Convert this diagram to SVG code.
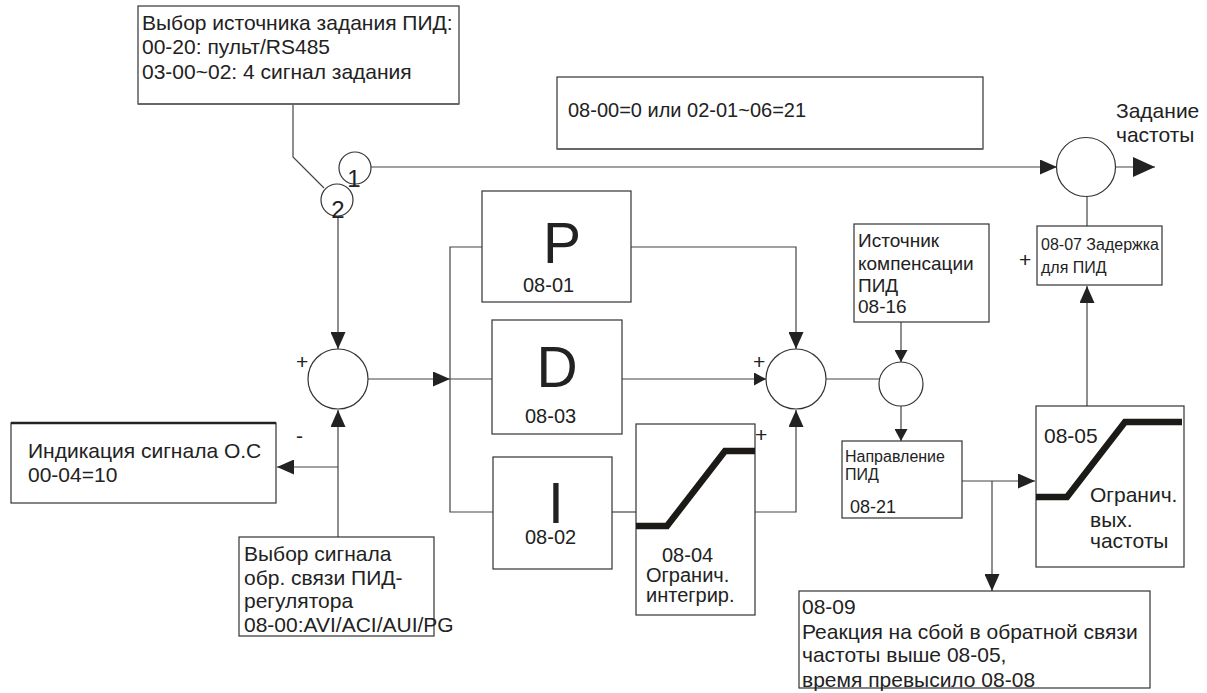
<svg xmlns="http://www.w3.org/2000/svg" width="1207" height="693" viewBox="0 0 1207 693">
<style>
  .box { fill: #fff; stroke: #333; stroke-width: 1.2; }
  .circ { fill: #fff; stroke: #333; stroke-width: 1.2; }
  .ln { fill: none; stroke: #444; stroke-width: 1.2; }
  .thick { fill: none; stroke: #1c1a17; stroke-width: 6.5; }
  text { font-family: "Liberation Sans", Arial, sans-serif; fill: #222; }
  .t21 { font-size: 21px; }
  .t20 { font-size: 20px; }
  .t19 { font-size: 19px; }
  .t16 { font-size: 16px; }
  .big { font-size: 57px; text-anchor: middle; }
  .sign { font-size: 21px; }
</style>
<defs>
  <marker id="arr" markerUnits="userSpaceOnUse" markerWidth="17" markerHeight="15" refX="17" refY="7.5" orient="auto">
    <path d="M0,0 L17,7.5 L0,15 z" fill="#222"/>
  </marker>
  <marker id="arrS" markerUnits="userSpaceOnUse" markerWidth="12" markerHeight="13" refX="12" refY="6.5" orient="auto">
    <path d="M0,0 L12,6.5 L0,13 z" fill="#222"/>
  </marker>
  <marker id="arrL" markerUnits="userSpaceOnUse" markerWidth="22" markerHeight="20" refX="22" refY="10" orient="auto">
    <path d="M0,0 L22,10 L0,20 z" fill="#222"/>
  </marker>
</defs>
<rect width="1207" height="693" fill="#fff"/>

<g id="connectors">
  <path class="ln" d="M293,104 V157 L324,188"/>
  <path class="ln" d="M371,167 H1057" marker-end="url(#arr)"/>
  <path class="ln" d="M338,216 V349" marker-end="url(#arr)"/>
  <path class="ln" d="M368,379 H450" marker-end="url(#arr)"/>
  <path class="ln" d="M482,247 H450 V512 H493"/>
  <path class="ln" d="M450,379 H492"/>
  <path class="ln" d="M631,247 H796 V349" marker-end="url(#arr)"/>
  <path class="ln" d="M622,379 H766" marker-end="url(#arrS)"/>
  <path class="ln" d="M612,512 H636"/>
  <path class="ln" d="M755,512 H796 V410" marker-end="url(#arr)"/>
  <path class="ln" d="M338,537 V410" marker-end="url(#arr)"/>
  <path class="ln" d="M338,467 H277" marker-end="url(#arr)"/>
  <path class="ln" d="M826,379 H880"/>
  <path class="ln" d="M901,322 V362" marker-end="url(#arrS)"/>
  <path class="ln" d="M901,406 V441" marker-end="url(#arrS)"/>
  <path class="ln" d="M962,481 H1035" marker-end="url(#arr)"/>
  <path class="ln" d="M992,481 V591" marker-end="url(#arr)"/>
  <path class="ln" d="M1087,406 V286" marker-end="url(#arr)"/>
  <path class="ln" d="M1087,226 V197"/>
  <path class="ln" d="M1116,167 H1155" marker-end="url(#arrL)"/>
</g>

<g id="src-select">
  <rect class="box" x="138" y="6" width="321" height="98"/>
  <line x1="138" y1="104" x2="459" y2="104" stroke="#666" stroke-width="2"/>
  <text class="t21" x="142" y="30">Выбор источника задания ПИД:</text>
  <text class="t21" x="142" y="54">00-20: пульт/RS485</text>
  <text class="t21" x="142" y="79">03-00~02: 4 сигнал задания</text>
</g>

<g id="switch1">
  <circle class="circ" cx="355" cy="168" r="16"/>
  <text x="354" y="187" font-size="24" text-anchor="middle">1</text>
</g>
<g id="switch2">
  <circle class="circ" cx="337" cy="200" r="16"/>
  <text x="338" y="218" font-size="24" text-anchor="middle">2</text>
</g>

<g id="cond">
  <rect class="box" x="557" y="77" width="426" height="72"/>
  <line x1="557" y1="149" x2="983" y2="149" stroke="#666" stroke-width="2"/>
  <text class="t20" x="568" y="117">08-00=0 или 02-01~06=21</text>
</g>

<g id="freq-cmd">
  <circle class="circ" cx="1086" cy="167" r="29.5"/>
  <text class="t21" x="1116" y="118">Задание</text>
  <text class="t21" x="1116" y="142">частоты</text>
</g>

<g id="sum1">
  <circle class="circ" cx="338" cy="379" r="30"/>
  <text class="sign" x="296" y="369">+</text>
  <text class="sign" x="296" y="443">-</text>
</g>

<g id="fb-display">
  <rect class="box" x="11" y="423" width="265" height="80"/>
  <line x1="11" y1="423" x2="276" y2="423" stroke="#222" stroke-width="2.5"/>
  <text class="t21" x="28" y="458">Индикация сигнала О.С</text>
  <text class="t21" x="28" y="482">00-04=10</text>
</g>

<g id="fb-select">
  <rect class="box" x="239" y="537" width="195" height="99"/>
  <text class="t21" x="244" y="561">Выбор сигнала</text>
  <text class="t21" x="244" y="585">обр. связи ПИД-</text>
  <text class="t21" x="244" y="608">регулятора</text>
  <text class="t21" x="244" y="632">08-00:AVI/ACI/AUI/PG</text>
</g>

<g id="P">
  <rect class="box" x="482" y="191" width="149" height="111"/>
  <text class="big" x="562" y="263">P</text>
  <text class="t20" x="523" y="292">08-01</text>
</g>

<g id="D">
  <rect class="box" x="492" y="320" width="130" height="114"/>
  <text class="big" x="557" y="387">D</text>
  <text class="t20" x="525" y="423">08-03</text>
</g>

<g id="I">
  <rect class="box" x="493" y="457" width="119" height="112"/>
  <text class="big" x="556" y="523">I</text>
  <text class="t20" x="525" y="544">08-02</text>
</g>

<g id="int-limit">
  <rect class="box" x="636" y="424" width="119" height="191"/>
  <path class="thick" d="M636,526 H667 L725,451 H755"/>
  <text class="sign" x="755" y="442">+</text>
  <text class="t20" x="662" y="562">08-04</text>
  <text class="t20" x="646" y="582">Огранич.</text>
  <text class="t20" x="646" y="602">интегрир.</text>
</g>

<g id="sum2">
  <circle class="circ" cx="796" cy="379" r="30"/>
  <text class="sign" x="753" y="369">+</text>
</g>

<g id="comp-src">
  <rect class="box" x="854" y="224" width="135" height="98"/>
  <text class="t19" x="858" y="247">Источник</text>
  <text class="t19" x="858" y="270">компенсации</text>
  <text class="t19" x="858" y="292">ПИД</text>
  <text class="t19" x="858" y="313">08-16</text>
</g>

<g id="sum3">
  <circle class="circ" cx="901" cy="384" r="22"/>
</g>

<g id="direction">
  <rect class="box" x="842" y="441" width="120" height="77"/>
  <text class="t16" x="845" y="462">Направление</text>
  <text class="t16" x="845" y="480">ПИД</text>
  <text x="850" y="513" font-size="18">08-21</text>
</g>

<g id="delay">
  <rect class="box" x="1037" y="226" width="125" height="59"/>
  <text class="sign" x="1019" y="267">+</text>
  <text class="t16" x="1041" y="250">08-07 Задержка</text>
  <text class="t16" x="1041" y="273">для ПИД</text>
</g>

<g id="out-limit">
  <rect class="box" x="1036" y="406" width="148" height="161"/>
  <path class="thick" d="M1036,497 H1067 L1125,422 H1182" stroke-width="7"/>
  <text class="t21" x="1044" y="443">08-05</text>
  <text class="t21" x="1090" y="502">Огранич.</text>
  <text class="t21" x="1090" y="527">вых.</text>
  <text class="t21" x="1090" y="548">частоты</text>
</g>

<g id="fault">
  <rect class="box" x="799" y="591" width="351" height="97"/>
  <text class="t21" x="802" y="614">08-09</text>
  <text class="t21" x="802" y="639">Реакция на сбой в обратной связи</text>
  <text class="t21" x="802" y="662">частоты выше 08-05,</text>
  <text class="t21" x="802" y="687">время превысило 08-08</text>
</g>
</svg>
